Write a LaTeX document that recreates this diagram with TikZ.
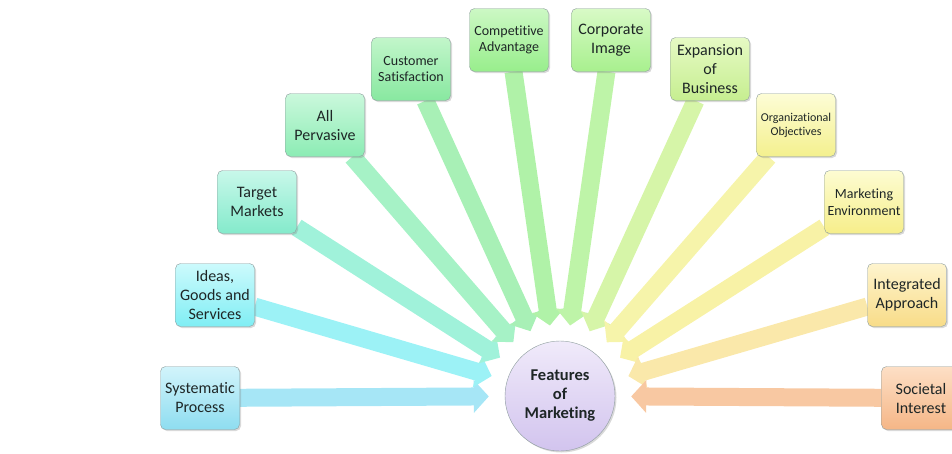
\documentclass[tikz,border=0pt]{standalone}
\usepackage{fontspec}
\setmainfont[Ligatures=NoCommon]{Carlito}
\usetikzlibrary{arrows.meta,shadows,backgrounds}

\definecolor{boxline}{HTML}{8C9C9C}
\definecolor{inkc}{HTML}{1E2626}
\definecolor{spT}{HTML}{D2F4FB}\definecolor{spB}{HTML}{8EDDF0}\definecolor{spA}{HTML}{A6E6F6}
\definecolor{igT}{HTML}{CCFAFC}\definecolor{igB}{HTML}{80EEF4}\definecolor{igA}{HTML}{9CF2F6}
\definecolor{tmT}{HTML}{C8F8EA}\definecolor{tmB}{HTML}{84EACB}\definecolor{tmA}{HTML}{A0F2DA}
\definecolor{apT}{HTML}{CAF8DC}\definecolor{apB}{HTML}{8CECB4}\definecolor{apA}{HTML}{A6F2C6}
\definecolor{csT}{HTML}{C2F6CA}\definecolor{csB}{HTML}{88E8A0}\definecolor{csA}{HTML}{A8F0B6}
\definecolor{caT}{HTML}{CCF8C4}\definecolor{caB}{HTML}{98EE8C}\definecolor{caA}{HTML}{B0F2A8}
\definecolor{ciT}{HTML}{D8FAC6}\definecolor{ciB}{HTML}{A8F08E}\definecolor{ciA}{HTML}{BEF4A8}
\definecolor{ebT}{HTML}{E6FAC4}\definecolor{ebB}{HTML}{C6EE90}\definecolor{ebA}{HTML}{D6F5A8}
\definecolor{ooT}{HTML}{FDFDD6}\definecolor{ooB}{HTML}{F4F08E}\definecolor{ooA}{HTML}{F6F4AA}
\definecolor{meT}{HTML}{FDFCD2}\definecolor{meB}{HTML}{F6EE8A}\definecolor{meA}{HTML}{F8F2A6}
\definecolor{iaT}{HTML}{FEF4CE}\definecolor{iaB}{HTML}{F8DC88}\definecolor{iaA}{HTML}{FAE8AA}
\definecolor{siT}{HTML}{FDDFC6}\definecolor{siB}{HTML}{F5B686}\definecolor{siA}{HTML}{F8C8A2}
\definecolor{fmT}{HTML}{F0EAFA}\definecolor{fmB}{HTML}{D2C4EE}

\begin{document}
\begin{tikzpicture}[x=1pt,y=-1pt,
  box/.style={draw=boxline, rounded corners=5pt, minimum width=79pt, minimum height=63pt,
    inner sep=2pt, align=center, text=inkc, font=\fontsize{16}{19}\selectfont,
    drop shadow={shadow xshift=1.5pt, shadow yshift=-1.5pt, opacity=0.3}},
  smallbox/.style={box, font=\fontsize{14}{16.5}\selectfont},
  tinybox/.style={box, font=\fontsize{12}{14}\selectfont},
  feed/.style={line width=18pt, -{Triangle[length=15pt,width=32pt]}, shorten >=16pt}]
\useasboundingbox (0,0) rectangle (952,453);
\clip (0,0) rectangle (952,453);

\node[circle, draw=boxline, top color=fmT, bottom color=fmB, minimum size=110pt, align=center,
  text=inkc, font=\fontsize{16.5}{19}\selectfont\bfseries,
  drop shadow={shadow xshift=1.5pt, shadow yshift=-1.5pt, opacity=0.3}] (fm) at (560,396)
  {Features\\of\\Marketing};

\node[box, top color=spT, bottom color=spB] (sp) at (200,398) {Systematic\\Process};
\node[box, top color=igT, bottom color=igB] (ig) at (215,295) {Ideas,\\Goods and\\Services};
\node[box, top color=tmT, bottom color=tmB] (tm) at (257,202) {Target\\Markets};
\node[box, top color=apT, bottom color=apB] (ap) at (325,125) {All\\Pervasive};
\node[smallbox, top color=csT, bottom color=csB] (cs) at (411,69) {Customer\\Satisfaction};
\node[smallbox, top color=caT, bottom color=caB] (ca) at (509,40) {Competitive\\Advantage};
\node[box, top color=ciT, bottom color=ciB] (ci) at (611,40) {Corporate\\Image};
\node[box, top color=ebT, bottom color=ebB] (eb) at (710,69) {Expansion\\of\\Business};
\node[tinybox, top color=ooT, bottom color=ooB] (oo) at (796,125) {Organizational\\Objectives};
\node[smallbox, top color=meT, bottom color=meB] (me) at (864,202) {Marketing\\Environment};
\node[box, top color=iaT, bottom color=iaB] (ia) at (907,295) {Integrated\\Approach};
\node[box, top color=siT, bottom color=siB] (si) at (921,398) {Societal\\Interest};

\begin{scope}[on background layer]
\draw[feed, draw=spA] (sp) -- (fm);
\draw[feed, draw=igA] (ig) -- (fm);
\draw[feed, draw=tmA] (tm) -- (fm);
\draw[feed, draw=apA] (ap) -- (fm);
\draw[feed, draw=csA] (cs) -- (fm);
\draw[feed, draw=caA] (ca) -- (fm);
\draw[feed, draw=ciA] (ci) -- (fm);
\draw[feed, draw=ebA] (eb) -- (fm);
\draw[feed, draw=ooA] (oo) -- (fm);
\draw[feed, draw=meA] (me) -- (fm);
\draw[feed, draw=iaA] (ia) -- (fm);
\draw[feed, draw=siA] (si) -- (fm);
\end{scope}
\end{tikzpicture}
\end{document}
